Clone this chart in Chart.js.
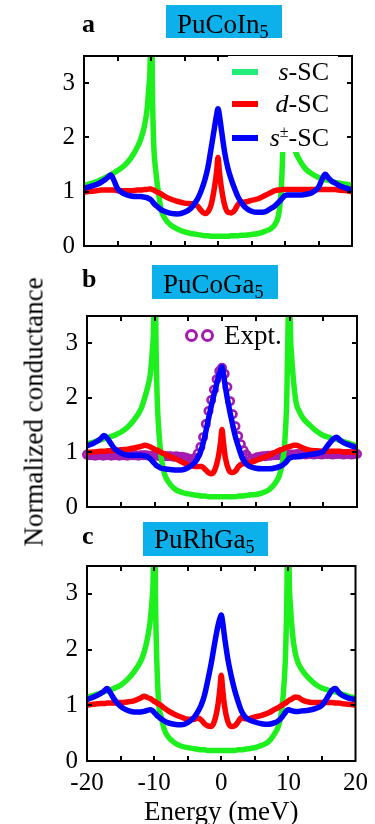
<!DOCTYPE html>
<html>
<head>
<meta charset="utf-8">
<title>Normalized conductance</title>
<script src="https://cdn.jsdelivr.net/npm/chart.js@4.4.1/dist/chart.umd.min.js"></script>
<style>
  body { margin: 0; background: #fff; }
  #figure {
    position: relative; width: 375px; height: 824px; overflow: hidden;
    font-family: "Liberation Serif", "Times New Roman", serif; color: #000;
  }
  #figure canvas { position: absolute; left: 0; }
  .letter { position: absolute; font-weight: bold; font-size: 26px; line-height: 26px; }
  .compound {
    position: absolute; background: #0cb1ec; box-sizing: border-box;
    padding-left: 11px; font-size: 27px; line-height: 30px; white-space: nowrap;
  }
  .compound sub { font-size: 18px; vertical-align: -5px; line-height: 0; }
  #ytitle {
    position: absolute; left: 34px; top: 412px; white-space: nowrap;
    font-size: 27px; line-height: 27px;
    transform: translate(-50%, -50%) rotate(-90deg);
  }
  #legendA { position: absolute; left: 228px; top: 56px; width: 110px; height: 96px; background: #fff; }
  .swatch { position: absolute; left: 4px; width: 26px; height: 6px; }
  .ltext { position: absolute; right: 9px; font-size: 26px; line-height: 30px; white-space: nowrap; }
  .ltext sup { font-size: 16px; vertical-align: 9px; line-height: 0; }
  .ring {
    position: absolute; width: 13px; height: 13px; box-sizing: border-box;
    border: 3.2px solid #a51cb0; border-radius: 50%;
  }
  #exptText { position: absolute; left: 224px; top: 320px; font-size: 27px; line-height: 30px; }
</style>
</head>
<body>
<div id="figure">
  <canvas id="panelA" width="375" height="238" style="top:32px"></canvas>
  <canvas id="panelB" width="375" height="239" style="top:292px"></canvas>
  <canvas id="panelC" width="375" height="282" style="top:542px"></canvas>

  <div class="letter" style="left:82px; top:11px">a</div>
  <div class="letter" style="left:82px; top:266px">b</div>
  <div class="letter" style="left:82px; top:523px">c</div>

  <div class="compound" style="left:166px; top:5px; width:116px; height:33px; padding-top:4px">PuCoIn<sub>5</sub></div>
  <div class="compound" style="left:152px; top:265px; width:126px; height:34px; padding-top:4px">PuCoGa<sub>5</sub></div>
  <div class="compound" style="left:143px; top:522px; width:125px; height:34px; padding-top:2px">PuRhGa<sub>5</sub></div>

  <div id="ytitle">Normalized conductance</div>

  <div id="legendA">
    <div class="swatch" style="top:13px; background:#22ee77"></div>
    <div class="ltext" style="top:1px"><i>s</i>-SC</div>
    <div class="swatch" style="top:45px; background:#ff0000"></div>
    <div class="ltext" style="top:33px"><i>d</i>-SC</div>
    <div class="swatch" style="top:79px; background:#0000ff"></div>
    <div class="ltext" style="top:67px"><i>s</i><sup>±</sup>-SC</div>
  </div>

  <div class="ring" style="left:185px; top:329px"></div>
  <div class="ring" style="left:201px; top:329px"></div>
  <div id="exptText">Expt.</div>
</div>

<script>
// ---- energy grid (meV) shared by the calculated curves ----
const energy = [
  -20, -19, -18, -17.5, -17, -16.5, -16, -15.5, -15, -14, -13, -12,
  -11.5, -11, -10.6, -10.3, -10.1, -10, -9.8, -9.6, -9.3, -9, -8.5, -8,
  -7, -6, -5, -4, -3.5, -3, -2.5, -2, -1.5, -1, -0.5, -0.2,
  0,
  0.2, 0.5, 1, 1.5, 2, 2.5, 3, 3.5, 4, 5, 6, 7,
  8, 8.5, 9, 9.3, 9.6, 9.8, 10, 10.1, 10.3, 10.6, 11, 11.5,
  12, 13, 14, 15, 15.5, 16, 16.5, 17, 17.5, 18, 19, 20
];

// ---- panel a : PuCoIn5 ----
const sCoIn = [
  1.12, 1.15, 1.19, 1.22, 1.25, 1.28, 1.31, 1.35, 1.39, 1.48, 1.62, 1.83,
  1.98, 2.2, 2.5, 2.95, 3.6, 6, 3.0, 1.9, 1.4, 1.08, 0.68, 0.52,
  0.38, 0.31, 0.26, 0.23, 0.22, 0.21, 0.2, 0.19, 0.19, 0.18, 0.18, 0.18,
  0.18,
  0.18, 0.18, 0.18, 0.18, 0.19, 0.19, 0.19, 0.2, 0.2, 0.21, 0.23, 0.27,
  0.33, 0.4, 0.55, 0.82, 1.5, 2.6, 6, 3.7, 2.7, 2.25, 1.95, 1.76,
  1.62, 1.43, 1.33, 1.26, 1.24, 1.22, 1.21, 1.19, 1.17, 1.16, 1.14, 1.12
];
const dCoIn = [
  0.99, 1.01, 1.02, 1.03, 1.03, 1.03, 1.03, 1.03, 1.02, 1.02, 1.02, 1.03,
  1.03, 1.04, 1.04, 1.05, 1.05, 1.05, 1.04, 1.03, 1.01, 0.99, 0.96, 0.92,
  0.86, 0.82, 0.79, 0.78, 0.77, 0.73, 0.65, 0.6, 0.63, 0.77, 1.1, 1.38,
  1.63,
  1.38, 1.08, 0.75, 0.62, 0.61, 0.66, 0.77, 0.8, 0.81, 0.84, 0.87, 0.93,
  0.99, 1.02, 1.03, 1.03, 1.04, 1.04, 1.04, 1.04, 1.04, 1.04, 1.04, 1.04,
  1.04, 1.04, 1.04, 1.04, 1.04, 1.04, 1.04, 1.04, 1.04, 1.03, 1.02, 1.0
];
const spmCoIn = [
  1.06, 1.1, 1.14, 1.17, 1.21, 1.26, 1.31, 1.2, 1.06, 0.96, 0.92, 0.91,
  0.91, 0.9, 0.89, 0.87, 0.86, 0.85, 0.82, 0.79, 0.75, 0.72, 0.67, 0.64,
  0.6, 0.59, 0.62, 0.7, 0.78, 0.88, 1.02, 1.2, 1.45, 1.82, 2.2, 2.42,
  2.53,
  2.42, 2.15, 1.72, 1.42, 1.22, 1.05, 0.9, 0.8, 0.72, 0.64, 0.62, 0.63,
  0.7, 0.74, 0.8, 0.84, 0.88, 0.91, 0.93, 0.93, 0.94, 0.94, 0.94, 0.94,
  0.94, 0.95, 0.98, 1.08, 1.22, 1.32, 1.25, 1.19, 1.16, 1.12, 1.07, 1.03
];

// ---- panel b : PuCoGa5 ----
const sCoGa = [
  1.16, 1.19, 1.23, 1.25, 1.27, 1.29, 1.31, 1.34, 1.37, 1.46, 1.6, 1.8,
  1.98, 2.2, 2.45, 2.9, 3.6, 6, 3.2, 2.0, 1.3, 0.9, 0.6, 0.47,
  0.33, 0.27, 0.24, 0.22, 0.21, 0.2, 0.2, 0.19, 0.19, 0.19, 0.19, 0.19,
  0.19,
  0.19, 0.19, 0.19, 0.19, 0.19, 0.2, 0.2, 0.21, 0.22, 0.23, 0.26, 0.32,
  0.46, 0.58, 0.85, 1.2, 2.0, 3.4, 6, 3.6, 2.8, 2.3, 1.9, 1.74,
  1.63, 1.5, 1.39, 1.31, 1.29, 1.27, 1.25, 1.24, 1.22, 1.2, 1.16, 1.12
];
const dCoGa = [
  1.0, 1.01, 1.02, 1.02, 1.03, 1.03, 1.04, 1.04, 1.05, 1.06, 1.08, 1.11,
  1.13, 1.12, 1.1, 1.08, 1.07, 1.06, 1.05, 1.04, 1.02, 1.0, 0.97, 0.94,
  0.89, 0.83, 0.77, 0.74, 0.74, 0.74, 0.69, 0.63, 0.61, 0.7, 0.95, 1.2,
  1.42,
  1.2, 0.9, 0.68, 0.63, 0.66, 0.75, 0.79, 0.8, 0.81, 0.85, 0.9, 0.95,
  1.01, 1.04, 1.06, 1.08, 1.09, 1.1, 1.11, 1.11, 1.12, 1.13, 1.13, 1.11,
  1.08, 1.04, 1.03, 1.02, 1.02, 1.02, 1.02, 1.02, 1.02, 1.01, 1.01, 1.0
];
const spmCoGa = [
  1.12, 1.17, 1.25, 1.31, 1.26, 1.17, 1.08, 1.03, 0.99, 0.95, 0.95, 0.95,
  0.94, 0.92, 0.88, 0.84, 0.81, 0.8, 0.77, 0.75, 0.73, 0.71, 0.7, 0.69,
  0.68, 0.68, 0.72, 0.82, 0.92, 1.08, 1.32, 1.62, 1.9, 2.15, 2.4, 2.52,
  2.57,
  2.45, 2.2, 1.85, 1.55, 1.28, 1.08, 0.9, 0.8, 0.75, 0.71, 0.7, 0.7,
  0.72, 0.74, 0.77, 0.8, 0.84, 0.87, 0.9, 0.9, 0.91, 0.92, 0.92, 0.93,
  0.94, 0.96, 0.98, 1.02, 1.1, 1.18, 1.25, 1.28, 1.22, 1.18, 1.13, 1.09
];
// measured spectrum, one point every 0.4 meV from -20 to 20
const exptEnergy = Array.from({ length: 101 }, (_, i) => -20 + i * 0.4);
const exptCoGa = [
  0.96, 0.95, 0.95, 0.94, 0.95, 0.95, 0.94, 0.95, 0.95, 0.94,
  0.95, 0.95, 0.94, 0.95, 0.95, 0.94, 0.95, 0.95, 0.95, 0.94,
  0.95, 0.95, 0.95, 0.94, 0.94, 0.94, 0.94, 0.93, 0.94, 0.93,
  0.93, 0.93, 0.92, 0.93, 0.92, 0.92, 0.91, 0.9, 0.88, 0.86,
  0.9, 0.98, 1.1, 1.28, 1.52, 1.76, 1.96, 2.15, 2.34, 2.49,
  2.55,
  2.44, 2.2, 1.94, 1.7, 1.48, 1.3, 1.15, 1.04, 0.96, 0.9,
  0.88, 0.89, 0.91, 0.92, 0.93, 0.93, 0.94, 0.94, 0.95, 0.95,
  0.95, 0.96, 0.95, 0.96, 0.96, 0.96, 0.96, 0.97, 0.96, 0.97,
  0.96, 0.97, 0.97, 0.96, 0.97, 0.97, 0.96, 0.97, 0.97, 0.97,
  0.96, 0.97, 0.97, 0.97, 0.96, 0.97, 0.97, 0.96, 0.97, 0.97
];

// ---- panel c : PuRhGa5 ----
const sRhGa = [
  1.14, 1.18, 1.22, 1.24, 1.26, 1.28, 1.3, 1.33, 1.36, 1.46, 1.6, 1.79,
  1.95, 2.2, 2.5, 2.9, 3.6, 6, 3.0, 1.8, 1.0, 0.82, 0.57, 0.45,
  0.33, 0.27, 0.24, 0.22, 0.21, 0.2, 0.2, 0.19, 0.19, 0.19, 0.19, 0.19,
  0.19,
  0.19, 0.19, 0.19, 0.19, 0.19, 0.2, 0.2, 0.21, 0.22, 0.24, 0.28, 0.34,
  0.5, 0.62, 0.9, 1.3, 2.0, 3.2, 6, 3.6, 2.8, 2.3, 1.95, 1.75,
  1.64, 1.49, 1.38, 1.31, 1.29, 1.27, 1.25, 1.24, 1.22, 1.2, 1.16, 1.13
];
const dRhGa = [
  1.0, 1.02, 1.03, 1.03, 1.04, 1.04, 1.04, 1.05, 1.05, 1.06, 1.08, 1.13,
  1.16, 1.14, 1.12, 1.1, 1.08, 1.07, 1.06, 1.04, 1.02, 1.0, 0.95, 0.91,
  0.84, 0.79, 0.75, 0.75, 0.77, 0.74, 0.67, 0.63, 0.62, 0.72, 1.0, 1.3,
  1.54,
  1.3, 0.98, 0.7, 0.62, 0.63, 0.7, 0.78, 0.76, 0.76, 0.79, 0.82, 0.86,
  0.93, 0.96, 1.0, 1.02, 1.04, 1.06, 1.08, 1.09, 1.1, 1.12, 1.15, 1.14,
  1.1, 1.06, 1.05, 1.05, 1.05, 1.05, 1.05, 1.04, 1.04, 1.03, 1.02, 1.0
];
const spmRhGa = [
  1.1, 1.15, 1.21, 1.25, 1.3, 1.22, 1.12, 1.04, 0.98, 0.91, 0.88, 0.88,
  0.89, 0.91, 0.92, 0.91, 0.89, 0.87, 0.85, 0.82, 0.79, 0.76, 0.72, 0.69,
  0.66, 0.65, 0.69, 0.79, 0.88, 1.0, 1.18, 1.45, 1.75, 2.1, 2.42, 2.56,
  2.62,
  2.5, 2.22, 1.82, 1.52, 1.27, 1.07, 0.9, 0.8, 0.75, 0.7, 0.67, 0.66,
  0.69, 0.72, 0.78, 0.83, 0.88, 0.91, 0.92, 0.92, 0.91, 0.9, 0.89, 0.89,
  0.9, 0.91, 0.94, 1.0, 1.08, 1.18, 1.27, 1.3, 1.23, 1.18, 1.13, 1.1
];

// ---- axes ----
const xTickMarks = [-15, -10, -5, 0, 5, 10, 15];
const yTickMarks = [1, 2, 3];

const GREEN = '#1ef01e';
const RED = '#ff0000';
const BLUE = '#0000ff';
const PURPLE = '#a51cb0';
const SERIF = '"Liberation Serif", "Times New Roman", serif';

function toPoints(xs, ys) {
  return xs.map((x, i) => ({ x: x, y: ys[i] }));
}

// closed box with short inward tick marks on all four sides
const frameTicks = {
  id: 'frameTicks',
  afterDraw(chart) {
    const { ctx, chartArea: a } = chart;
    const x = chart.scales.x;
    const y = chart.scales.y;
    ctx.save();
    ctx.strokeStyle = '#000';
    ctx.lineWidth = 2;
    ctx.beginPath();
    xTickMarks.forEach(v => {
      const px = Math.round(x.getPixelForValue(v));
      ctx.moveTo(px, a.bottom); ctx.lineTo(px, a.bottom - 5);
      ctx.moveTo(px, a.top); ctx.lineTo(px, a.top + 5);
    });
    yTickMarks.forEach(v => {
      const py = Math.round(y.getPixelForValue(v));
      ctx.moveTo(a.left, py); ctx.lineTo(a.left + 5, py);
      ctx.moveTo(a.right, py); ctx.lineTo(a.right - 5, py);
    });
    ctx.stroke();
    ctx.strokeRect(a.left, a.top, a.right - a.left, a.bottom - a.top);
    ctx.restore();
  }
};

function lineSet(data, color) {
  return {
    data: toPoints(energy, data),
    borderColor: color,
    borderWidth: 5.5,
    pointRadius: 0,
    fill: false,
    cubicInterpolationMode: 'monotone',
    clip: 0
  };
}

function makePanel(id, s, d, spm, cfg) {
  const datasets = [lineSet(spm, BLUE), lineSet(d, RED), lineSet(s, GREEN)];
  if (cfg.expt) {
    datasets.push({
      data: toPoints(exptEnergy, cfg.expt),
      showLine: false,
      pointRadius: 3.7,
      pointBorderWidth: 2.6,
      pointBorderColor: PURPLE,
      pointBackgroundColor: 'rgba(0,0,0,0)',
      clip: false
    });
  }

  return new Chart(document.getElementById(id), {
    type: 'line',
    data: { datasets: datasets },
    options: {
      responsive: false,
      animation: false,
      events: [],
      layout: { padding: { top: 20, bottom: cfg.showX ? 0 : 20, left: 0, right: cfg.right } },
      plugins: { legend: { display: false }, tooltip: { enabled: false } },
      scales: {
        x: {
          type: 'linear',
          min: -20,
          max: 20,
          display: cfg.showX,
          grid: { display: false, drawTicks: false },
          border: { display: false },
          ticks: {
            stepSize: 10,
            autoSkip: false,
            maxRotation: 0,
            padding: 7,
            color: '#000',
            font: { family: SERIF, size: 25 }
          },
          title: {
            display: true,
            text: 'Energy (meV)',
            color: '#000',
            padding: 0,
            font: { family: SERIF, size: 27, lineHeight: 0.8 }
          },
          afterFit(scale) { scale.height = cfg.showX ? 63 : 0; }
        },
        y: {
          min: 0,
          max: 3.5,
          grid: { display: false, drawTicks: false },
          border: { display: false },
          ticks: {
            stepSize: 1,
            includeBounds: false,
            padding: 9,
            color: '#000',
            font: { family: SERIF, size: 25 }
          },
          afterFit(scale) { scale.width = cfg.left; }
        }
      }
    },
    plugins: [frameTicks]
  });
}

makePanel('panelA', sCoIn, dCoIn, spmCoIn, { left: 84, right: 23, showX: false });
makePanel('panelB', sCoGa, dCoGa, spmCoGa, { left: 87, right: 18, showX: false, expt: exptCoGa });
makePanel('panelC', sRhGa, dRhGa, spmRhGa, { left: 87, right: 19, showX: true });
</script>
</body>
</html>
